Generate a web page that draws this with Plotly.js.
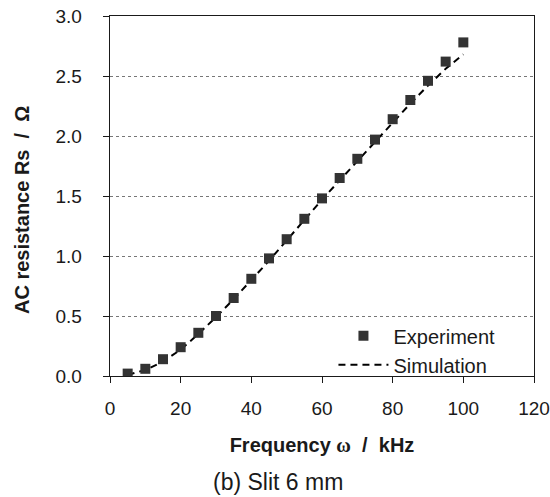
<!DOCTYPE html>
<html>
<head>
<meta charset="utf-8">
<script src="https://cdn.plot.ly/plotly-3.0.1.min.js"></script>
<style>html,body{margin:0;padding:0;background:#fff;}#chart{width:550px;height:497px;}</style>
</head>
<body>
<div id="chart"></div>
<script>
const freq = [5,10,15,20,25,30,35,40,45,50,55,60,65,70,75,80,85,90,95,100];
const experiment = [0.02,0.06,0.14,0.24,0.36,0.50,0.65,0.81,0.98,1.14,1.31,1.48,1.65,1.81,1.97,2.14,2.30,2.46,2.62,2.78];
const simulation = [0.01,0.05,0.12,0.22,0.35,0.49,0.64,0.80,0.96,1.13,1.30,1.47,1.63,1.79,1.95,2.11,2.27,2.42,2.56,2.68];
const xTicks = [0,20,40,60,80,100,120];
const yTicks = [0,0.5,1.0,1.5,2.0,2.5,3.0];

const font = "Liberation Sans, Arial, sans-serif";
const ink = '#1a1a1a';
const traces = [
  {x: freq, y: simulation, type: 'scatter', mode: 'lines', name: 'Simulation',
   line: {color: '#000', width: 2, dash: '7px,5px'}},
  {x: freq, y: experiment, type: 'scatter', mode: 'markers', name: 'Experiment',
   marker: {symbol: 'square', size: 10, color: '#333333'}}
];
const layout = {
  width: 550, height: 497,
  margin: {l: 110, r: 16, t: 16, b: 121},
  paper_bgcolor: '#fff', plot_bgcolor: '#fff',
  font: {family: font, size: 19, color: ink},
  showlegend: true,
  legend: {x: 0.527, y: 0.166, xanchor: 'left', yanchor: 'top', traceorder: 'reversed',
           bgcolor: 'rgba(0,0,0,0)', font: {size: 20, family: font, color: ink},
           tracegroupgap: 0, itemwidth: 50},
  xaxis: {range: [0, 120], tickvals: xTicks, ticktext: xTicks.map(String),
          showgrid: false, zeroline: false, showline: true, linecolor: ink, linewidth: 1.3,
          mirror: true, ticks: 'outside', ticklen: 6, tickcolor: ink, ticklabelstandoff: 9,
          tickfont: {size: 19, family: font, color: ink},
          title: {text: '<b>Frequency <span style="font-family:Liberation Serif,serif">ω</span>&nbsp; /&nbsp; kHz</b>',
                  font: {size: 20, family: font, color: ink}, standoff: 20}},
  yaxis: {range: [0, 3.0], tickvals: yTicks, ticktext: yTicks.map(v => v.toFixed(1)),
          showgrid: true, gridcolor: '#777', griddash: 'dot', gridwidth: 1,
          zeroline: false, showline: true, linecolor: ink, linewidth: 1.3,
          mirror: true, ticks: 'outside', ticklen: 6, tickcolor: ink, ticklabelstandoff: 17,
          tickfont: {size: 19, family: font, color: ink}},
  annotations: [
    {text: '<b>AC resistance Rs&nbsp; /&nbsp; Ω</b>', xref: 'paper', yref: 'paper',
     x: -0.2075, y: 0.461, xanchor: 'center', yanchor: 'middle', textangle: -90,
     showarrow: false, font: {size: 20, family: font, color: ink}},
    {text: '(b) Slit 6 mm', xref: 'paper', yref: 'paper', x: 0.397, y: -0.294,
     xanchor: 'center', yanchor: 'middle', showarrow: false,
     font: {size: 23, family: font, color: ink}}]
};
Plotly.newPlot('chart', traces, layout, {displayModeBar: false, staticPlot: true});
</script>
</body>
</html>
